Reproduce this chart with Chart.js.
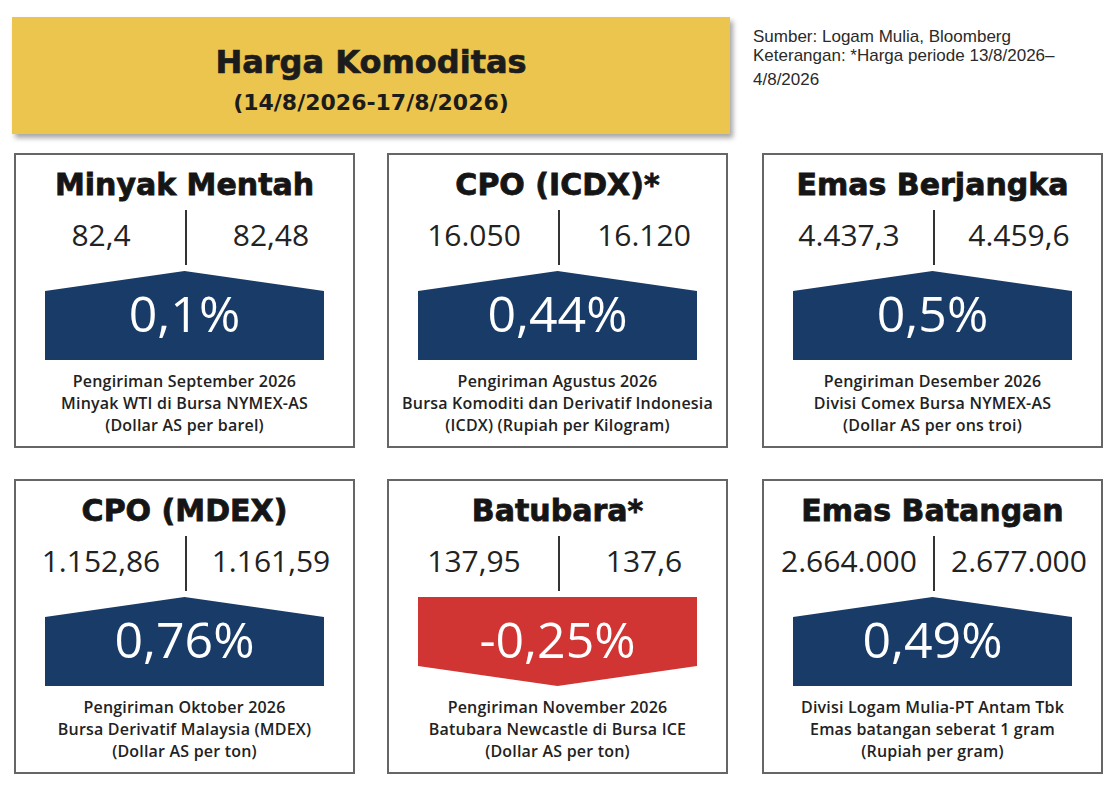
<!DOCTYPE html>
<html>
<head>
<meta charset="utf-8">
<script src="https://cdn.jsdelivr.net/npm/chart.js@4.4.1/dist/chart.umd.min.js"></script>
<style>
  body { margin: 0; background: #fff; }
  #page { position: relative; width: 1118px; height: 791px; overflow: hidden; }
  .banner {
    position: absolute; left: 12px; top: 17px; width: 718px; height: 117px;
    background: #ecc54f; box-shadow: 3px 4px 5px rgba(0,0,0,0.35);
  }
  .banner .title {
    position: absolute; left: 0; right: 0; top: 29px; text-align: center;
    font: bold 32px/32px "DejaVu Sans", sans-serif; color: #1c1c1c;
    -webkit-text-stroke: 0.7px #1c1c1c;
  }
  .banner .sub {
    position: absolute; left: 0; right: 0; top: 75px; text-align: center;
    font: bold 22px/22px "DejaVu Sans", sans-serif; color: #1c1c1c;
  }
  .source {
    position: absolute; left: 753px; top: 27px; white-space: nowrap;
    font: 17px/19px "Liberation Sans", Arial, sans-serif; color: #2a2a2a;
  }
  .source .last { margin-top: 5px; }
  .card {
    position: absolute; width: 337px; height: 291px;
    border: 2px solid #666; background: #fff;
  }
  .card .name {
    position: absolute; left: -2px; width: 341px; top: 15px; text-align: center;
    font: bold 30px/30px "DejaVu Sans", sans-serif; color: #151515; white-space: nowrap;
    -webkit-text-stroke: 0.8px #151515;
  }
  .card .val {
    position: absolute; top: 65px; width: 170px; text-align: center;
    font: 30px/30px "Open Sans", sans-serif; color: #222;
  }
  .card .divider { position: absolute; left: 169px; top: 55px; width: 2px; height: 55px; background: #333; }
  .card canvas { position: absolute; left: 29px; top: 116px; }
  .card .pct {
    position: absolute; left: 29px; width: 279px; top: 133px; text-align: center;
    font: 50px/50px "Open Sans", sans-serif; color: #fff;
  }
  .card .notes {
    position: absolute; left: 0; right: 0; top: 215px; text-align: center;
    font: 600 16px/22px "Open Sans", sans-serif; letter-spacing: 0.2px; color: #222; white-space: nowrap;
  }
</style>
</head>
<body>
<div id="page">
  <div class="banner">
    <div class="title">Harga Komoditas</div>
    <div class="sub">(14/8/2026-17/8/2026)</div>
  </div>
  <div class="source">
    <div>Sumber: Logam Mulia, Bloomberg</div>
    <div>Keterangan: *Harga periode 13/8/2026–</div>
    <div class="last">4/8/2026</div>
  </div>
</div>
<script>
const commodities = ['Minyak Mentah', 'CPO (ICDX)*', 'Emas Berjangka', 'CPO (MDEX)', 'Batubara*', 'Emas Batangan'];
const previous = [82.4, 16050, 4437.3, 1152.86, 137.95, 2664000];
const latest = [82.48, 16120, 4459.6, 1161.59, 137.6, 2677000];
const changePct = [0.1, 0.44, 0.5, 0.76, -0.25, 0.49];
const notes = [
  ['Pengiriman September 2026', 'Minyak WTI di Bursa NYMEX-AS', '(Dollar AS per barel)'],
  ['Pengiriman Agustus 2026', 'Bursa Komoditi dan Derivatif Indonesia', '(ICDX) (Rupiah per Kilogram)'],
  ['Pengiriman Desember 2026', 'Divisi Comex Bursa NYMEX-AS', '(Dollar AS per ons troi)'],
  ['Pengiriman Oktober 2026', 'Bursa Derivatif Malaysia (MDEX)', '(Dollar AS per ton)'],
  ['Pengiriman November 2026', 'Batubara Newcastle di Bursa ICE', '(Dollar AS per ton)'],
  ['Divisi Logam Mulia-PT Antam Tbk', 'Emas batangan seberat 1 gram', '(Rupiah per gram)']
];

const colLeft = [14, 387, 762];
const rowTop = [153, 479];
const UP = '#183b68';
const DOWN = '#d03534';

// indonesian number style: 1.152,86
function idNum(v) {
  const parts = String(Math.abs(v)).split('.');
  const grouped = parts[0].replace(/\B(?=(\d{3})+(?!\d))/g, '.');
  return (v < 0 ? '-' : '') + grouped + (parts[1] ? ',' + parts[1] : '');
}

// draws the bar as an arrow: roof on top when up, point at bottom when down
const arrowShape = {
  id: 'arrowShape',
  afterDatasetsDraw(chart) {
    const v = chart.data.datasets[0].data[0];
    const bar = chart.getDatasetMeta(0).data[0];
    const { x, y, base, width } = bar.getProps(['x', 'y', 'base', 'width'], true);
    const left = x - width / 2, right = x + width / 2;
    const top = Math.min(y, base), bottom = Math.max(y, base);
    const tip = 20;
    const ctx = chart.ctx;
    ctx.save();
    ctx.beginPath();
    if (v >= 0) {
      ctx.moveTo(left, top + tip);
      ctx.lineTo(x, top);
      ctx.lineTo(right, top + tip);
      ctx.lineTo(right, bottom);
      ctx.lineTo(left, bottom);
    } else {
      ctx.moveTo(left, top);
      ctx.lineTo(right, top);
      ctx.lineTo(right, bottom - tip);
      ctx.lineTo(x, bottom);
      ctx.lineTo(left, bottom - tip);
    }
    ctx.closePath();
    ctx.fillStyle = v >= 0 ? UP : DOWN;
    ctx.fill();
    ctx.restore();
  }
};

const page = document.getElementById('page');

commodities.forEach((name, i) => {
  const card = document.createElement('div');
  card.className = 'card';
  card.style.left = colLeft[i % 3] + 'px';
  card.style.top = rowTop[Math.floor(i / 3)] + 'px';
  card.innerHTML =
    '<div class="name">' + name + '</div>' +
    '<div class="val" style="left:0">' + idNum(previous[i]) + '</div>' +
    '<div class="divider"></div>' +
    '<div class="val" style="left:170px">' + idNum(latest[i]) + '</div>' +
    '<canvas width="279" height="89"></canvas>' +
    '<div class="pct">' + idNum(changePct[i]) + '%</div>' +
    '<div class="notes">' + notes[i].join('<br>') + '</div>';
  page.appendChild(card);

  const v = changePct[i];
  new Chart(card.querySelector('canvas'), {
    type: 'bar',
    data: {
      labels: [name],
      datasets: [{
        data: [v],
        backgroundColor: 'rgba(0,0,0,0)',
        borderWidth: 0,
        barPercentage: 1,
        categoryPercentage: 1
      }]
    },
    options: {
      responsive: false,
      animation: false,
      layout: { padding: 0 },
      plugins: { legend: { display: false }, tooltip: { enabled: false } },
      scales: {
        x: { display: false },
        y: { display: false, min: Math.min(0, v), max: Math.max(0, v) }
      }
    },
    plugins: [arrowShape]
  });
});
</script>
</body>
</html>
